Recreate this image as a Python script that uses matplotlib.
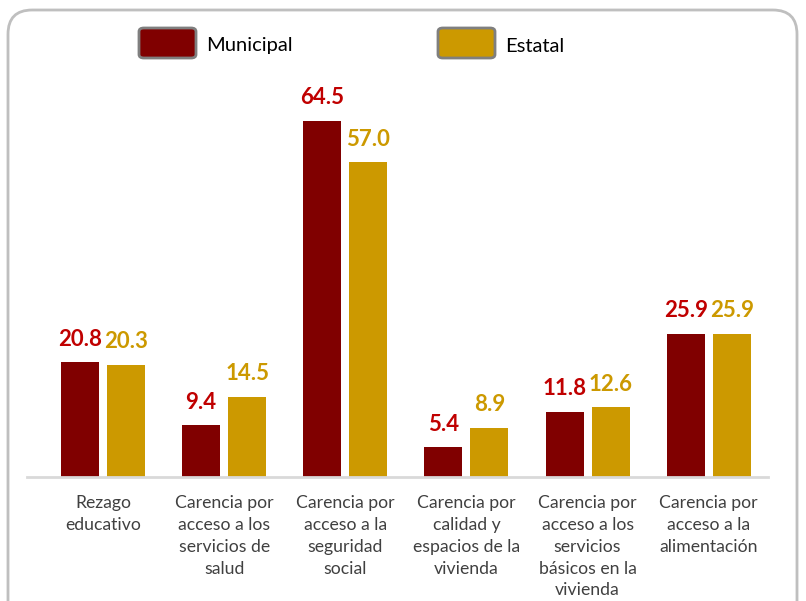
import matplotlib.pyplot as plt
import numpy as np
from matplotlib.patches import FancyBboxPatch

# Data
categories = ['Rezago\neducativo',
              'Carencia por\nacceso a los\nservicios de\nsalud',
              'Carencia por\nacceso a la\nseguridad\nsocial',
              'Carencia por\ncalidad y\nespacios de la\nvivienda',
              'Carencia por\nacceso a los\nservicios\nbásicos en la\nvivienda',
              'Carencia por\nacceso a la\nalimentación']
series_names = ['Municipal', 'Estatal']
municipal = [20.8, 9.4, 64.5, 5.4, 11.8, 25.9]
estatal = [20.3, 14.5, 57.0, 8.9, 12.6, 25.9]

bar_colors = ['#800000', '#CC9900']
label_colors = ['#C00000', '#CC9900']

plt.rcParams['font.family'] = ['Lato', 'DejaVu Sans']

fig = plt.figure(figsize=(8.06, 6.01), dpi=100)
ax = fig.add_axes([0.0335, 0.2063, 0.919, 0.6606])

x = np.arange(len(categories))
w = 0.314
off = 0.19
for vals, dx, bc, lc in zip([municipal, estatal], [-off, off], bar_colors, label_colors):
    bars = ax.bar(x + dx, vals, width=w, color=bc)
    for b, v in zip(bars, vals):
        ax.annotate(f'{v:.1f}', (b.get_x() + b.get_width() / 2, v),
                    xytext=(0, 9), textcoords='offset points',
                    ha='center', va='bottom', fontsize=16, fontweight='bold', color=lc)

ax.set_xlim(-0.627, 5.487)
ax.set_ylim(0, 71.9)
ax.set_xticks(x)
ax.set_xticklabels(categories, fontsize=12.7, color='#404040', linespacing=1.45)
ax.tick_params(axis='x', length=0, pad=13)
ax.set_yticks([])
for s in ['top', 'right', 'left']:
    ax.spines[s].set_visible(False)
ax.spines['bottom'].set_color('#D9D9D9')
ax.spines['bottom'].set_linewidth(2)

# Rounded border around the chart
border = FancyBboxPatch((8 / 806, -0.05), 789 / 806, 1 - 10 / 601 + 0.05,
                        boxstyle='round,pad=0,rounding_size=0.03',
                        transform=fig.transFigure, fill=False,
                        edgecolor='#BFBFBF', linewidth=2, mutation_aspect=806 / 601)
fig.patches.append(border)

# Legend
legend_x = [139 / 806, 438 / 806]
for name, c, lx in zip(series_names, bar_colors, legend_x):
    p = FancyBboxPatch((lx, 1 - 58 / 601), 57 / 806, 30 / 601,
                       boxstyle='round,pad=0,rounding_size=0.006',
                       transform=fig.transFigure, facecolor=c,
                       edgecolor='#7F7F7F', linewidth=2)
    fig.patches.append(p)
    fig.text(lx + 67 / 806, 1 - 46 / 601, name, fontsize=14.5, color='#000000',
             ha='left', va='center')

fig.savefig('out.png', dpi=100)
